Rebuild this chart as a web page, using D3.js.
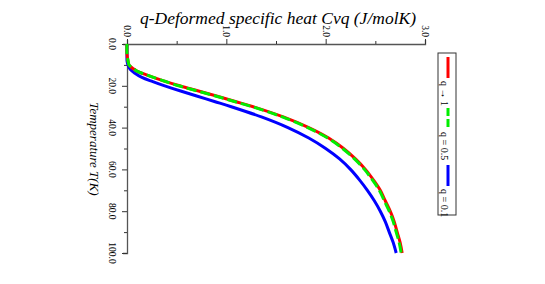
<!DOCTYPE html>
<html>
<head>
<meta charset="utf-8">
<script src="https://cdn.jsdelivr.net/npm/d3@7"></script>
<style>
  body { margin: 0; background: #fff; }
  svg { display: block; }
  text { font-family: "Liberation Serif", "DejaVu Serif", serif; }
</style>
</head>
<body>
<div id="chart"></div>
<script>
const width = 545;
const height = 284;

// temperature (K) and q-deformed specific heat (J/molK)
const tempQ1 = [0, 5, 8, 10, 11, 12, 13, 15, 17.5, 20, 22.5, 25, 27.5, 30, 35, 40, 45, 50, 55, 60, 65, 70, 75, 80, 85, 90, 95, 100];
const cvQ1   = [0, 0, 0.01, 0.02, 0.04, 0.07, 0.1, 0.21, 0.36, 0.53, 0.72, 0.91, 1.09, 1.27, 1.58, 1.83, 2.03, 2.18, 2.3, 2.4, 2.48, 2.55, 2.6, 2.65, 2.69, 2.72, 2.75, 2.77];
const tempQ05 = [0, 5, 8, 10, 11, 12, 13, 15, 17.5, 20, 22.5, 25, 27.5, 30, 35, 40, 45, 50, 55, 60, 65, 70, 75, 80, 85, 90, 95, 100];
const cvQ05   = [0, 0, 0.01, 0.02, 0.04, 0.07, 0.1, 0.21, 0.36, 0.52, 0.71, 0.9, 1.08, 1.26, 1.57, 1.82, 2.02, 2.17, 2.29, 2.39, 2.47, 2.54, 2.59, 2.64, 2.68, 2.71, 2.74, 2.76];
const tempQ01 = [0, 5, 8, 10, 12, 14, 16, 18, 20, 22.5, 25, 27.5, 30, 35, 40, 45, 50, 55, 60, 65, 70, 75, 80, 85, 90, 95, 100];
const cvQ01   = [0, 0, 0, 0.01, 0.03, 0.08, 0.15, 0.26, 0.38, 0.54, 0.71, 0.88, 1.05, 1.36, 1.62, 1.83, 2.0, 2.14, 2.25, 2.34, 2.42, 2.49, 2.55, 2.6, 2.64, 2.68, 2.71];

const cvTicks = [0, 1, 2, 3];
const tempTicks = [0, 20, 40, 60, 80, 100];
const legendLabels = ["q \u2192 1", "q = 0.5", "q = 0.1"];

const series = [
  {name: legendLabels[0], t: tempQ1, cv: cvQ1, color: "#ff0000", dash: null},
  {name: legendLabels[1], t: tempQ05, cv: cvQ05, color: "#00ee00", dash: "10,4"},
  {name: legendLabels[2], t: tempQ01, cv: cvQ01, color: "#0000ff", dash: null}
];

const svg = d3.select("#chart").append("svg")
  .attr("width", width)
  .attr("height", height);

// rotated chart: Cv runs to the right, temperature runs down
const x = d3.scaleLinear().domain([0, 3]).range([127, 425]);
const y = d3.scaleLinear().domain([0, 100]).range([44, 253]);

// top axis (Cv)
const topAxis = svg.append("g")
  .attr("transform", `translate(0,${y(0)})`)
  .call(d3.axisTop(x).tickValues(d3.range(0, 3.01, 0.5)).tickSize(4).tickFormat(""));
topAxis.select(".domain").attr("stroke", "#555").attr("stroke-width", 1.3);
topAxis.selectAll(".tick line").attr("stroke", "#333")
  .attr("y2", d => Number.isInteger(d) ? -5 : -3);

svg.append("g").selectAll("text")
  .data(cvTicks)
  .join("text")
  .attr("transform", d => `translate(${x(d) - 3},${y(0) - 7}) rotate(90)`)
  .attr("text-anchor", "end")
  .attr("font-size", 9.5)
  .text(d => d.toFixed(1));

// left axis (temperature)
const leftAxis = svg.append("g")
  .attr("transform", `translate(${x(0)},0)`)
  .call(d3.axisLeft(y).tickValues(d3.range(0, 101, 10)).tickSize(4).tickFormat(""));
leftAxis.select(".domain").attr("stroke", "#555").attr("stroke-width", 1.3);
leftAxis.selectAll(".tick line").attr("stroke", "#333")
  .attr("x2", d => d % 20 === 0 ? -5 : -3);

svg.append("g").selectAll("text")
  .data(tempTicks)
  .join("text")
  .attr("transform", d => `translate(${x(0) - 18},${y(d)}) rotate(90)`)
  .attr("text-anchor", "middle")
  .attr("font-size", 9.5)
  .text(d => d.toFixed(1));

// titles
svg.append("text")
  .attr("x", 278)
  .attr("y", 24)
  .attr("text-anchor", "middle")
  .attr("font-size", 17.5)
  .attr("font-style", "italic")
  .text("q-Deformed specific heat Cvq (J/molK)");

svg.append("text")
  .attr("transform", `translate(90,149) rotate(90)`)
  .attr("text-anchor", "middle")
  .attr("font-size", 13)
  .attr("font-style", "italic")
  .text("Temperature T(K)");

// curves
const line = d3.line()
  .x(d => x(d[1]))
  .y(d => y(d[0]))
  .curve(d3.curveCatmullRom.alpha(0.5));

const drawOrder = [series[2], series[0], series[1]];
svg.append("g").selectAll("path")
  .data(drawOrder)
  .join("path")
  .attr("fill", "none")
  .attr("stroke", d => d.color)
  .attr("stroke-width", 3)
  .attr("stroke-dasharray", d => d.dash)
  .attr("d", d => line(d.t.map((t, i) => [t, d.cv[i]])));

// legend
const legend = svg.append("g");
legend.append("rect")
  .attr("x", 438).attr("y", 53)
  .attr("width", 18).attr("height", 162)
  .attr("fill", "#fff")
  .attr("stroke", "#333")
  .attr("stroke-width", 1);

const legendY = [57, 108, 165];
series.forEach((s, i) => {
  legend.append("line")
    .attr("x1", 448).attr("x2", 448)
    .attr("y1", legendY[i]).attr("y2", legendY[i] + 21)
    .attr("stroke", s.color)
    .attr("stroke-width", 3)
    .attr("stroke-dasharray", s.dash ? "8,3" : null);
  legend.append("text")
    .attr("transform", `translate(441,${legendY[i] + 24}) rotate(90)`)
    .attr("font-size", 10)
    .text(s.name);
});
</script>
</body>
</html>
